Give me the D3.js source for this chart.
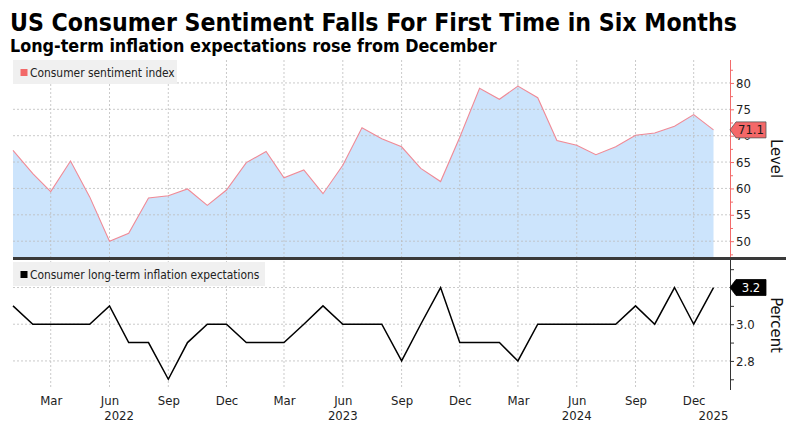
<!DOCTYPE html>
<html><head><meta charset="utf-8">
<script src="https://cdn.jsdelivr.net/npm/d3@7"></script>
<style>
body{margin:0;background:#fff}
svg{display:block}
text{font-family:"DejaVu Sans Condensed","DejaVu Sans",sans-serif;font-stretch:condensed}
</style>
</head><body>
<svg id="c" width="800" height="424"></svg>
<script>
const titleText = "US Consumer Sentiment Falls For First Time in Six Months";
const subtitleText = "Long-term inflation expectations rose from December";
const months = ["2022-01","2022-02","2022-03","2022-04","2022-05","2022-06","2022-07","2022-08","2022-09","2022-10","2022-11","2022-12",
"2023-01","2023-02","2023-03","2023-04","2023-05","2023-06","2023-07","2023-08","2023-09","2023-10","2023-11","2023-12",
"2024-01","2024-02","2024-03","2024-04","2024-05","2024-06","2024-07","2024-08","2024-09","2024-10","2024-11","2024-12","2025-01"];
const sentiment = [67.2,62.8,59.4,65.2,58.4,50.0,51.5,58.2,58.6,59.9,56.8,59.7,
64.9,67.0,62.0,63.5,59.0,64.4,71.5,69.4,67.9,63.8,61.3,69.7,
79.0,76.9,79.4,77.2,69.1,68.2,66.4,67.9,70.1,70.5,71.8,74.0,71.1];
const inflation = [3.1,3.0,3.0,3.0,3.0,3.1,2.9,2.9,2.7,2.9,3.0,3.0,
2.9,2.9,2.9,3.0,3.1,3.0,3.0,3.0,2.8,3.0,3.2,2.9,
2.9,2.9,2.8,3.0,3.0,3.0,3.0,3.0,3.1,3.0,3.2,3.0,3.2];
const seriesNames = ["Consumer sentiment index","Consumer long-term inflation expectations"];
const axisTitles = ["Level","Percent"];
const monthTicks = ["2022-03","2022-06","2022-09","2022-12","2023-03","2023-06","2023-09","2023-12","2024-03","2024-06","2024-09","2024-12"];
const monthTickLabels = ["Mar","Jun","Sep","Dec","Mar","Jun","Sep","Dec","Mar","Jun","Sep","Dec"];
const yearTicks = ["2022-06-16","2023-06-01","2024-06-01","2025-01-01"];
const yearTickLabels = ["2022","2023","2024","2025"];
const sentMajorTicks = [50,55,60,65,70,75,80];
const sentMinorTicks = [47.5,52.5,57.5,62.5,67.5,72.5,77.5,82.5];
const inflTicks = [2.7,2.8,2.9,3.0,3.1,3.2,3.3];
const inflGridTicks = [2.8,3.0,3.2];
const inflLabelTicks = [2.8,3.0];

const parse = d3.timeParse("%Y-%m");
const parseD = d3.timeParse("%Y-%m-%d");
const dates = months.map(parse);
const svg = d3.select("#c");

const X0 = 13, X1 = 713.5, AX = 730;
const x = d3.scaleTime().domain([dates[0], dates[dates.length-1]]).range([X0, X1]);
const yT = d3.scaleLinear().domain([47, 84.35]).range([257, 60]);
const yB = d3.scaleLinear().domain([2.647, 3.35]).range([389, 260]);

// Title
const t1 = svg.append("text").attr("x",10).attr("y",31).attr("font-weight","bold").attr("font-size",26).attr("fill","#000").text(titleText);
const t2 = svg.append("text").attr("x",10).attr("y",52).attr("font-weight","bold").attr("font-size",18).attr("fill","#000").text(subtitleText);
function fit(sel, target){ const w = sel.node().getComputedTextLength(); const fs = +sel.attr("font-size"); sel.attr("font-size", fs*target/w); }
fit(t1, 727); fit(t2, 487);

// Upper area
const area = d3.area().x((d,i)=>x(dates[i])).y0(yT.range()[0]).y1(d=>yT(d));
svg.append("path").datum(sentiment).attr("d",area).attr("fill","#cce4fc");

// grids
const gridColor = "#bdbdbd";
const gT = svg.append("g");
gT.selectAll("line.h").data(sentMajorTicks).join("line")
  .attr("x1",X0).attr("x2",AX).attr("y1",d=>yT(d)).attr("y2",d=>yT(d))
  .attr("stroke",gridColor).attr("stroke-width",0.8).attr("stroke-dasharray","2,2");
gT.selectAll("line.v").data(monthTicks).join("line")
  .attr("x1",d=>x(parse(d))).attr("x2",d=>x(parse(d))).attr("y1",60).attr("y2",257)
  .attr("stroke",gridColor).attr("stroke-width",0.8).attr("stroke-dasharray","2,2");
const gB = svg.append("g");
gB.selectAll("line.h").data(inflGridTicks).join("line")
  .attr("x1",X0).attr("x2",AX).attr("y1",d=>yB(d)).attr("y2",d=>yB(d))
  .attr("stroke",gridColor).attr("stroke-width",0.8).attr("stroke-dasharray","2,2");
gB.selectAll("line.v").data(monthTicks).join("line")
  .attr("x1",d=>x(parse(d))).attr("x2",d=>x(parse(d))).attr("y1",261).attr("y2",389)
  .attr("stroke",gridColor).attr("stroke-width",0.8).attr("stroke-dasharray","2,2");

// upper line
const lineT = d3.line().x((d,i)=>x(dates[i])).y(d=>yT(d));
svg.append("path").datum(sentiment).attr("d",lineT).attr("fill","none").attr("stroke","#f08a96").attr("stroke-width",1.1);

// lower line
const lineB = d3.line().x((d,i)=>x(dates[i])).y(d=>yB(d));
svg.append("path").datum(inflation).attr("d",lineB).attr("fill","none").attr("stroke","#000").attr("stroke-width",1.5);

// legends
function legend(y0, w, color, label){
  const g = svg.append("g");
  g.append("rect").attr("x",X0).attr("y",y0).attr("width",w).attr("height",24).attr("fill","#f0f0f0");
  g.append("rect").attr("x",20.5).attr("y",y0+9).attr("width",7).attr("height",7).attr("fill",color);
  g.append("text").attr("x",30).attr("y",y0+17).attr("font-size",11.9).attr("fill","#222").text(label);
}
legend(60, 164, "#f26868", seriesNames[0]);
legend(262, 252, "#000", seriesNames[1]);

// separator
svg.append("line").attr("x1",X0).attr("x2",786).attr("y1",258.5).attr("y2",258.5).attr("stroke","#3a3a3a").attr("stroke-width",3);

// right axes
const axT = d3.axisRight(yT).tickValues(sentMajorTicks).tickSize(4).tickSizeOuter(0).tickPadding(2);
const gAT = svg.append("g").attr("transform",`translate(${AX},0)`).call(axT);
gAT.select(".domain").attr("stroke","#f26b6b").attr("d",`M0.5,60V257`);
gAT.selectAll(".tick line").attr("stroke","#f26b6b");
gAT.selectAll(".tick text").attr("font-size",13).attr("fill","#222").attr("font-family",null);
const axTm = d3.axisRight(yT).tickValues(sentMinorTicks).tickSize(3).tickSizeOuter(0).tickFormat("");
const gATm = svg.append("g").attr("transform",`translate(${AX},0)`).call(axTm);
gATm.select(".domain").remove();
gATm.selectAll(".tick line").attr("stroke","#f26b6b");

const axB = d3.axisRight(yB).tickValues(inflTicks).tickSize(4).tickSizeOuter(0).tickPadding(2)
  .tickFormat(d=> inflLabelTicks.some(v=>Math.abs(v-d)<1e-9) ? d3.format(".1f")(d) : "");
const gAB = svg.append("g").attr("transform",`translate(${AX},0)`).call(axB);
gAB.select(".domain").attr("stroke","#333").attr("d",`M0.5,260V390`);
gAB.selectAll(".tick line").attr("stroke","#333");
gAB.selectAll(".tick text").attr("font-size",13).attr("fill","#222").attr("font-family",null);

// axis titles
svg.append("text").attr("transform",`translate(771,${(60+257)/2}) rotate(90)`).attr("text-anchor","middle")
  .attr("font-size",16.5).attr("fill","#111").text(axisTitles[0]);
svg.append("text").attr("transform",`translate(771,${(260+390)/2}) rotate(90)`).attr("text-anchor","middle")
  .attr("font-size",16.5).attr("fill","#111").text(axisTitles[1]);

// value tags
function tag(cy, val, fill, textColor, stroke){
  const g = svg.append("g");
  const p = `M${AX},${cy} L${AX+6},${cy-8} H${AX+36} V${cy+8} H${AX+6} Z`;
  g.append("path").attr("d",p).attr("fill",fill).attr("stroke",stroke).attr("stroke-width",0.8);
  g.append("text").attr("x",AX+21).attr("y",cy+4.5).attr("text-anchor","middle").attr("font-size",13).attr("fill",textColor).text(val);
}
tag(yT(sentiment[sentiment.length-1]), d3.format(".1f")(sentiment[sentiment.length-1]), "#f46868", "#1a1a1a", "#555");
tag(yB(inflation[inflation.length-1]), d3.format(".1f")(inflation[inflation.length-1]), "#000", "#fff", "#000");

// x axis
const axX = d3.axisBottom(x).tickValues(monthTicks.map(parse)).tickSize(0).tickPadding(6)
  .tickFormat((d,i)=>monthTickLabels[i]);
const gX = svg.append("g").attr("transform","translate(0,390)").call(axX);
gX.select(".domain").remove();
gX.selectAll(".tick text").attr("font-size",13).attr("fill","#222").attr("font-family",null);
svg.append("g").selectAll("text").data(yearTicks).join("text")
  .attr("x",d=>x(parseD(d))).attr("y",420).attr("text-anchor","middle").attr("font-size",13).attr("fill","#222")
  .text((d,i)=>yearTickLabels[i]);
</script>
</body></html>
